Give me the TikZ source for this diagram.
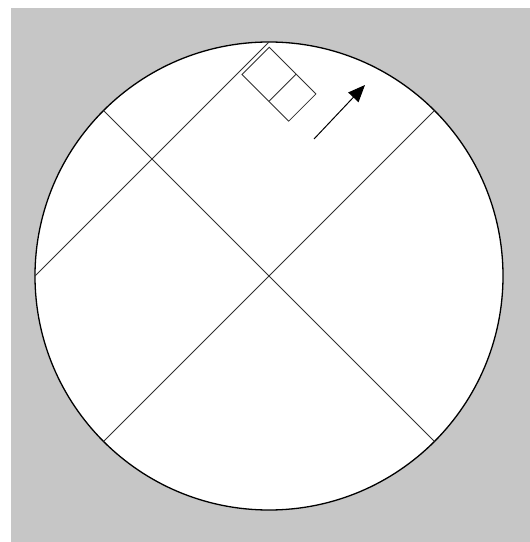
\documentclass[tikz,border=0pt]{standalone}
\usepackage{xcolor}
\usepackage{tikz}
\usetikzlibrary{arrows.meta,calc}
\definecolor{backgray}{HTML}{C6C6C6}
\definecolor{inkgray}{HTML}{303030}

\begin{document}
\begin{tikzpicture}[x=1pt, y=1pt,
    rim/.style={draw=black, line width=1.3pt, fill=white},
    cut/.style={draw=inkgray, line width=0.8pt},
    probe/.style={draw=inkgray, line width=0.8pt, fill=white},
    push/.style={-{Triangle[length=17pt,width=14pt]}, draw=black,
                 line width=1pt}]
  \useasboundingbox (0,0) rectangle (530,542);
  \fill[backgray] (11,0) rectangle (530,534);
  % disc and its chords
  \coordinate (o) at (269,266);
  \draw[rim] (o) circle[radius=234];
  \coordinate (ne) at ($(o)+(45:234)$);
  \coordinate (nw) at ($(o)+(135:234)$);
  \coordinate (sw) at ($(o)+(225:234)$);
  \coordinate (se) at ($(o)+(315:234)$);
  \coordinate (n) at ($(o)+(90:234)$);
  \coordinate (w) at ($(o)+(180:234)$);
  \draw[cut] (nw) -- (se);
  \draw[cut] (ne) -- (sw);
  \draw[cut] (w) -- (n);
  % small block next to the upper chord
  \begin{scope}[shift={(242,467.5)}, rotate=-45]
    \draw[probe] (0,0) rectangle (66,38.5);
    \draw[cut] (38,0) -- (38,38.5);
  \end{scope}
  \coordinate (tail) at (314,403);
  \coordinate (head) at (365,457);
  \draw[push] (tail) -- (head);
\end{tikzpicture}
\end{document}
